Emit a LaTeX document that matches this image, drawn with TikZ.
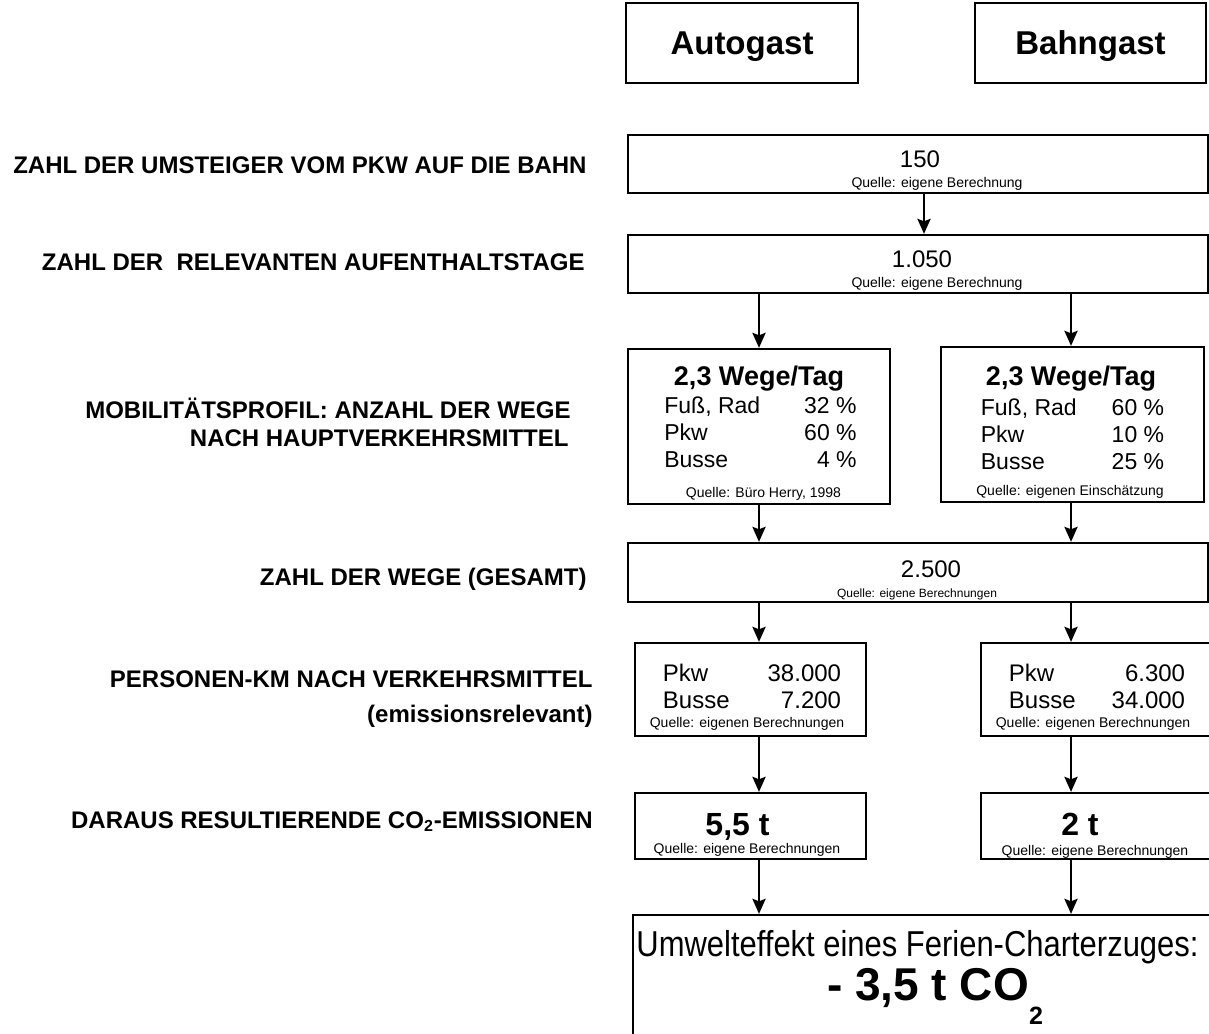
\documentclass[tikz,border=0pt]{standalone}
\usepackage{fontspec}
\setmainfont{Liberation Sans}
\newfontfamily\narrowfont[FakeStretch=0.86]{Liberation Sans}
\usetikzlibrary{arrows.meta}

\begin{document}
\begin{tikzpicture}[->,>={Stealth[length=7.5pt,width=6.5pt,inset=1.2pt]},x=0.5pt,y=-0.5pt,
                    box/.style={draw,line width=1.1pt,inner sep=0pt},
                    head/.style={font=\bfseries\fontsize{16.5}{18}\selectfont,text depth=0pt},
                    lbl/.style={anchor=base east,inner sep=0pt,font=\bfseries\fontsize{12}{14}\selectfont},
                    val/.style={anchor=base,inner sep=0pt,font=\fontsize{12}{14}\selectfont},
                    rows/.style={anchor=base,inner sep=0pt,font=\fontsize{11.5}{13.5}\selectfont},
                    big/.style={anchor=base,inner sep=0pt,font=\bfseries\fontsize{16}{18}\selectfont},
                    src/.style={anchor=base,inner sep=0pt,font=\fontsize{7}{8}\selectfont},
                    arr/.style={line width=1.3pt}]

\useasboundingbox (0,0) rectangle (1209,1033);
\clip (0,0) rectangle (1209,1033);

% columns of the connectors
\coordinate (colM) at (924,0);
\coordinate (colA) at (759,0);
\coordinate (colB) at (1071,0);

% boxes
\node[box,head,minimum width=116pt,minimum height=40pt]   (auto)  at (742,43)      {Autogast};
\node[box,head,minimum width=115.5pt,minimum height=40pt] (bahn)  at (1090.5,43)   {Bahngast};
\node[box,minimum width=290pt,minimum height=29pt]   (umst)  at (918,164)     {};
\node[box,minimum width=290pt,minimum height=29pt]   (tage)  at (918,264)     {};
\node[box,minimum width=131pt,minimum height=77.5pt] (profA) at (759,426.5)   {};
\node[box,minimum width=131.5pt,minimum height=77.5pt] (profB) at (1072.5,424.5) {};
\node[box,minimum width=290pt,minimum height=29.5pt] (wege)  at (918,572.5)   {};
\node[box,minimum width=115.5pt,minimum height=46.5pt] (pkmA) at (750.5,689.5) {};
\node[box,minimum width=115.5pt,minimum height=46.5pt] (pkmB) at (1096.5,689.5) {};
\node[box,minimum width=115.5pt,minimum height=33pt] (co2A)  at (750.5,826)   {};
\node[box,minimum width=115.5pt,minimum height=33pt] (co2B)  at (1096.5,826)  {};
\node[box,minimum width=291pt,minimum height=62.5pt] (total) at (924,977.5)   {};

% texts in the boxes
\node[val] (umstV) at (920,167) {150};
\node[src] (umstQ) at (937,187) {Quelle: eigene Berechnung};
\node[val] (tageV) at (922,267) {1.050};
\node[src] (tageQ) at (937,287) {Quelle: eigene Berechnung};

\node[anchor=base,inner sep=0pt,font=\bfseries\fontsize{13.5}{15}\selectfont] (profAT) at (759,385) {2,3 Wege/Tag};
\node[rows] (profAR) at (760.5,413) {\begin{tabular}[t]{@{}l@{\hspace{22pt}}r@{}}
  Fuß, Rad & 32 \% \\ Pkw & 60 \% \\ Busse & 4 \%\end{tabular}};
\node[src] (profAQ) at (763.5,497) {Quelle: Büro Herry, 1998};

\node[anchor=base,inner sep=0pt,font=\bfseries\fontsize{13.5}{15}\selectfont] (profBT) at (1071,385) {2,3 Wege/Tag};
\node[rows] (profBR) at (1072.5,415) {\begin{tabular}[t]{@{}l@{\hspace{17.5pt}}r@{}}
  Fuß, Rad & 60 \% \\ Pkw & 10 \% \\ Busse & 25 \%\end{tabular}};
\node[src] (profBQ) at (1070,495) {Quelle: eigenen Einschätzung};

\node[val] (wegeV) at (931,577) {2.500};
\node[src,font=\fontsize{6}{7}\selectfont] (wegeQ) at (917,597) {Quelle: eigene Berechnungen};

\node[val,font=\fontsize{12}{13.5}\selectfont] (pkmAR) at (752,681) {\begin{tabular}[t]{@{}l@{\hspace{19pt}}r@{}}
  Pkw & 38.000 \\ Busse & 7.200\end{tabular}};
\node[src] (pkmAQ) at (747,727) {Quelle: eigenen Berechnungen};
\node[val,font=\fontsize{12}{13.5}\selectfont] (pkmBR) at (1097,681) {\begin{tabular}[t]{@{}l@{\hspace{18pt}}r@{}}
  Pkw & 6.300 \\ Busse & 34.000\end{tabular}};
\node[src] (pkmBQ) at (1093,727) {Quelle: eigenen Berechnungen};

\node[big] (co2AV) at (737.5,835) {5,5 t};
\node[src] (co2AQ) at (747,853) {Quelle: eigene Berechnungen};
\node[big] (co2BV) at (1080,835) {2 t};
\node[src] (co2BQ) at (1095,855) {Quelle: eigene Berechnungen};

\node[anchor=base,inner sep=0pt,font=\narrowfont\fontsize{18}{20}\selectfont] (totalT) at (917.5,956) {Umwelteffekt eines Ferien-Charterzuges:};
\node[anchor=base,inner sep=0pt,font=\bfseries\fontsize{23}{25}\selectfont] (totalV) at (935,1000)
  {- 3,5 t CO\raisebox{-12pt}{\fontsize{12.5}{13}\selectfont 2}};

% labels on the left
\node[lbl] (lUmst)  at (587,173) {ZAHL DER UMSTEIGER VOM PKW AUF DIE BAHN};
\node[lbl] (lTage)  at (585,270) {ZAHL DER\ \ RELEVANTEN AUFENTHALTSTAGE};
\node[lbl] (lProf)  at (571,418) {MOBILITÄTSPROFIL: ANZAHL DER WEGE};
\node[lbl] (lProf2) at (569,446) {NACH HAUPTVERKEHRSMITTEL};
\node[lbl] (lWege)  at (587,585) {ZAHL DER WEGE (GESAMT)};
\node[lbl] (lPkm)   at (593,687) {PERSONEN-KM NACH VERKEHRSMITTEL};
\node[lbl] (lPkm2)  at (593,722) {(emissionsrelevant)};
\node[lbl] (lCo2)   at (593,828) {DARAUS RESULTIERENDE CO\textsubscript{2}-EMISSIONEN};

% connectors
\draw[arr] (umst.south -| colM) -- (tage.north -| colM);
\draw[arr] (tage.south -| colA) -- (profA.north -| colA);
\draw[arr] (tage.south -| colB) -- (profB.north -| colB);
\draw[arr] (profA.south -| colA) -- (wege.north -| colA);
\draw[arr] (profB.south -| colB) -- (wege.north -| colB);
\draw[arr] (wege.south -| colA) -- (pkmA.north -| colA);
\draw[arr] (wege.south -| colB) -- (pkmB.north -| colB);
\draw[arr] (pkmA.south -| colA) -- (co2A.north -| colA);
\draw[arr] (pkmB.south -| colB) -- (co2B.north -| colB);
\draw[arr] (co2A.south -| colA) -- (total.north -| colA);
\draw[arr] (co2B.south -| colB) -- (total.north -| colB);
\end{tikzpicture}
\end{document}
